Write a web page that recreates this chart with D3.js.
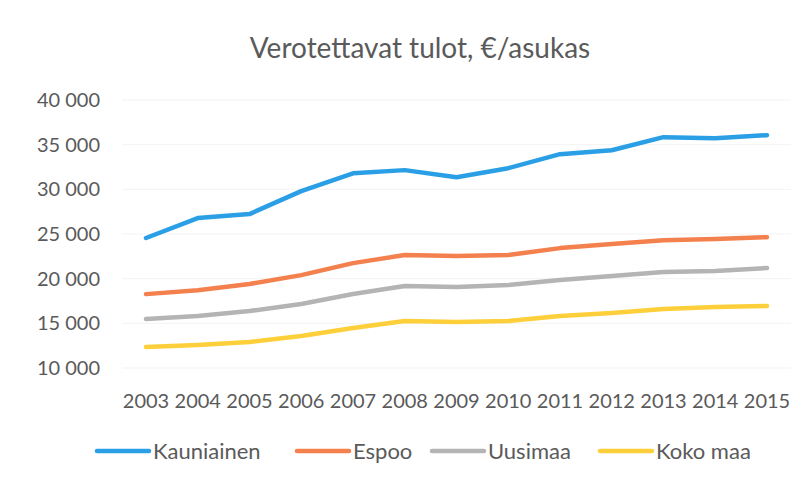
<!DOCTYPE html>
<html>
<head>
<meta charset="utf-8">
<script src="https://cdn.jsdelivr.net/npm/d3@7"></script>
<style>
  body { margin: 0; background: #fff; }
  text { font-family: Lato, "Open Sans", sans-serif; fill: #5a5a5a; }
</style>
</head>
<body>
<div id="chart"></div>
<script>
// Verotettavat tulot, €/asukas 2003-2015

const years = [2003, 2004, 2005, 2006, 2007, 2008, 2009, 2010, 2011, 2012, 2013, 2014, 2015];
const kauniainen = [24550, 26780, 27230, 29800, 31800, 32150, 31360, 32370, 33940, 34380, 35840, 35730, 36060];
const espoo      = [18270, 18700, 19400, 20400, 21740, 22640, 22530, 22640, 23420, 23870, 24300, 24430, 24650];
const uusimaa    = [15480, 15820, 16380, 17160, 18280, 19170, 19060, 19280, 19840, 20290, 20740, 20850, 21190];
const kokoMaa    = [12350, 12570, 12910, 13580, 14470, 15260, 15150, 15260, 15820, 16150, 16600, 16820, 16940];
const seriesNames = ["Kauniainen", "Espoo", "Uusimaa", "Koko maa"];
const yTicks = [10000, 15000, 20000, 25000, 30000, 35000, 40000];

const series = [kauniainen, espoo, uusimaa, kokoMaa];
const colors = ["#2a9fe6", "#f4804e", "#b4b4b4", "#fdcf3a"];

const width = 812, height = 478;
const margin = { top: 100, right: 45, bottom: 110, left: 146 };

const svg = d3.select("#chart").append("svg")
    .attr("width", width)
    .attr("height", height);

const x = d3.scalePoint()
    .domain(years)
    .range([margin.left, width - margin.right]);

const y = d3.scaleLinear()
    .domain([10000, 40000])
    .range([height - margin.bottom, margin.top]);

const fmt = v => d3.format(",")(v).replace(",", " ");

// faint gridlines
svg.append("g")
    .selectAll("line")
    .data(yTicks)
    .join("line")
    .attr("x1", margin.left - 24)
    .attr("x2", width - margin.right + 24)
    .attr("y1", d => y(d))
    .attr("y2", d => y(d))
    .attr("stroke", "#f3f3f3")
    .attr("stroke-width", 1);

// y labels
svg.append("g")
    .selectAll("text")
    .data(yTicks)
    .join("text")
    .attr("x", 100)
    .attr("y", d => y(d))
    .attr("dy", "0.35em")
    .attr("text-anchor", "end")
    .style("font-size", "20px")
    .text(fmt);

// x labels
svg.append("g")
    .selectAll("text")
    .data(years)
    .join("text")
    .attr("x", d => x(d))
    .attr("y", 408)
    .attr("text-anchor", "middle")
    .style("font-size", "20px")
    .text(d => d);

// lines
const line = d3.line()
    .x((d, i) => x(years[i]))
    .y(d => y(d));

svg.append("g")
    .selectAll("path")
    .data(series)
    .join("path")
    .attr("d", line)
    .attr("fill", "none")
    .attr("stroke", (d, i) => colors[i])
    .attr("stroke-width", 4.5)
    .attr("stroke-linejoin", "round")
    .attr("stroke-linecap", "round");

// title
svg.append("text")
    .attr("x", 420)
    .attr("y", 58)
    .attr("text-anchor", "middle")
    .style("font-size", "28px")
    .text("Verotettavat tulot, €/asukas");

// legend
const legendX = [97, 297, 432, 600];
const legend = svg.append("g");
seriesNames.forEach((name, i) => {
    legend.append("line")
        .attr("x1", legendX[i])
        .attr("x2", legendX[i] + 52)
        .attr("y1", 451)
        .attr("y2", 451)
        .attr("stroke", colors[i])
        .attr("stroke-width", 4.5)
        .attr("stroke-linecap", "round");
    legend.append("text")
        .attr("x", legendX[i] + 56)
        .attr("y", 451)
        .attr("dy", "0.35em")
        .style("font-size", "22px")
        .text(name);
});
</script>
</body>
</html>
